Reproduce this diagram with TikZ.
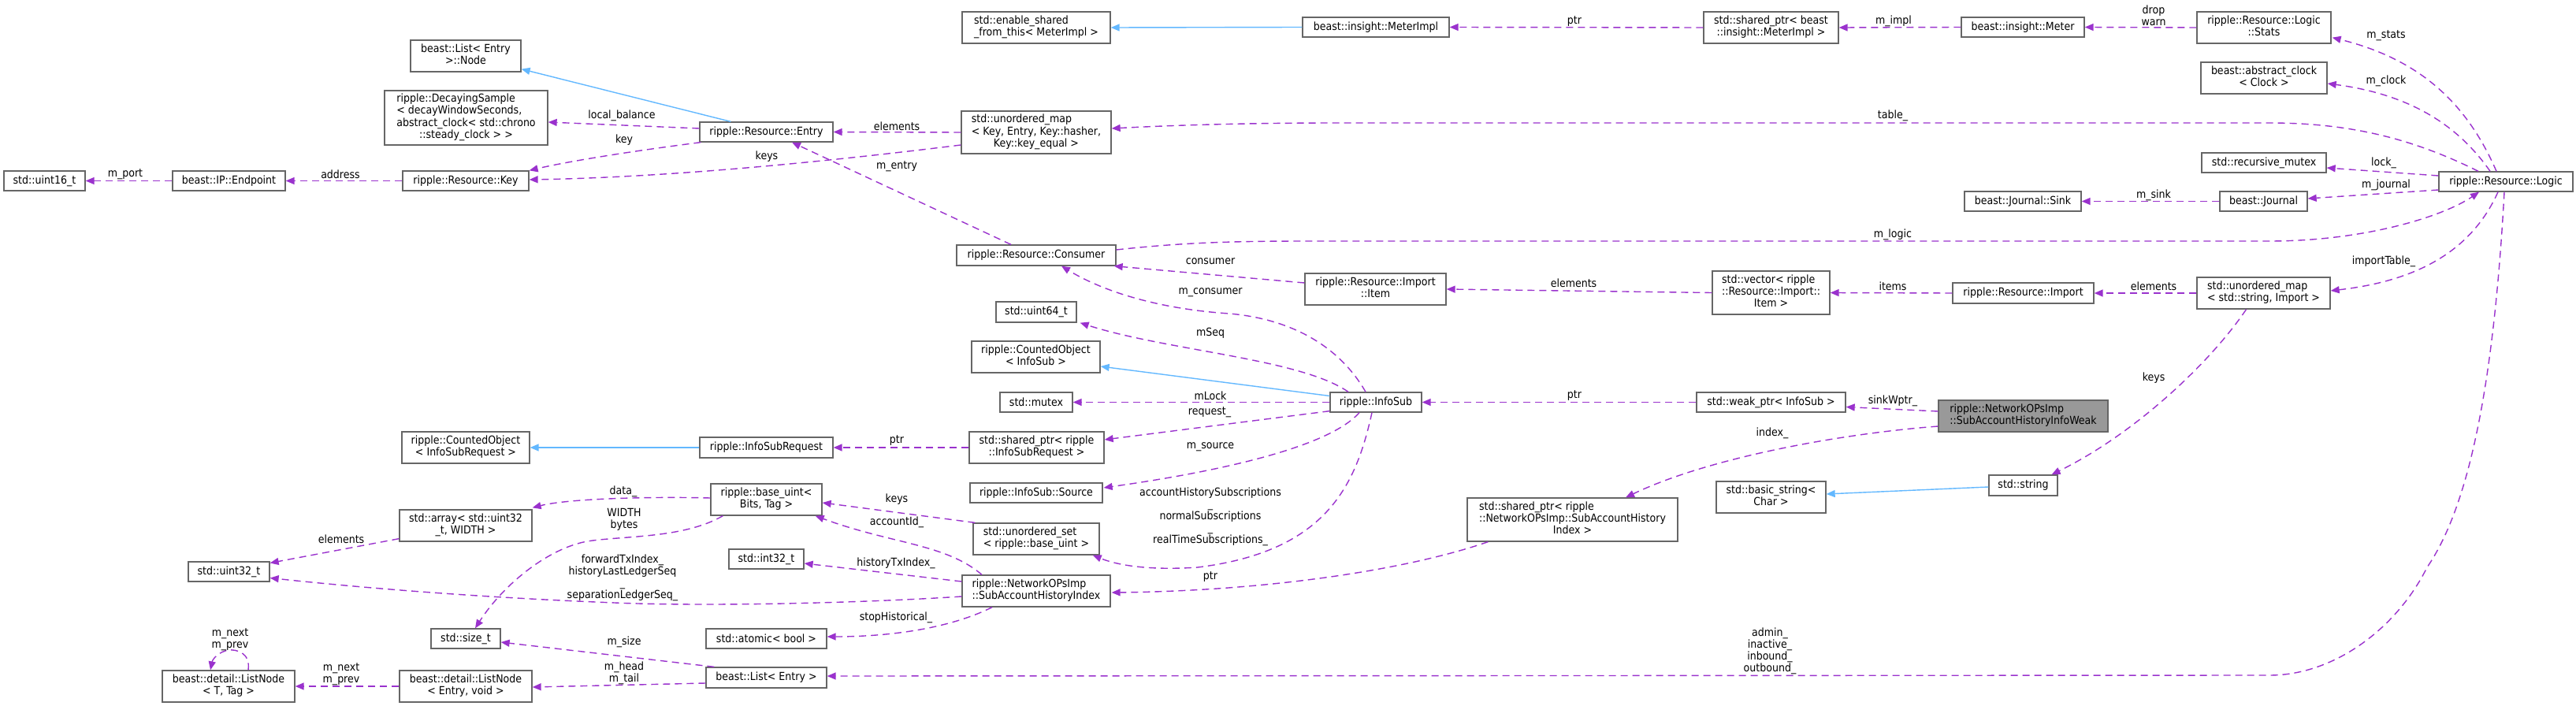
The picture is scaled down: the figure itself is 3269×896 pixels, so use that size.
\documentclass[tikz,border=0pt]{standalone}
\usepackage{fontspec}
\setmainfont{DejaVu Sans Condensed}
\usetikzlibrary{arrows.meta,calc}
\definecolor{usecol}{HTML}{9A32CD}
\definecolor{inhcol}{HTML}{63B8FF}
\definecolor{boxcol}{HTML}{666666}
\definecolor{hilite}{HTML}{999999}
\newcommand\tcen[1]{\begin{tabular}{@{}c@{}}#1\end{tabular}}
\newcommand\tlef[2]{\begin{tabular}{@{}l@{}}#1\\\multicolumn{1}{@{}c@{}}{#2}\end{tabular}}
\newcommand\mkbox[7][]{%
  \pgfmathsetmacro\mkW{#5-#3}\pgfmathsetmacro\mkH{#6-#4}%
  \pgfmathsetmacro\mkX{(#3+#5)/2}\pgfmathsetmacro\mkY{(#4+#6)/2}%
  \node[box,#1,minimum width=\mkW pt,minimum height=\mkH pt] (#2) at (\mkX,\mkY) {#7};}
\begin{document}
\begin{tikzpicture}[x=1pt,y=-1pt,
  every node/.style={font=\fontsize{14pt}{15pt}\selectfont},
  box/.style={draw=boxcol,line width=1.3pt,fill=white,inner sep=0pt,rectangle},
  hibox/.style={fill=hilite},
  lbl/.style={inner sep=0pt,align=center},
  arr/.style={-{Triangle[length=11pt,width=9pt]}},
  uedge/.style={draw=usecol,line width=1.4pt,dash pattern=on 9pt off 6pt,arr},
  iedge/.style={draw=inhcol,line width=1.4pt,arr}]
\useasboundingbox (0,0) rectangle (3269,896);

% ---------------- nodes ----------------
\mkbox{lnode}{521}{51}{661}{91}{\tcen{beast::List< Entry\\>::Node}}
\mkbox{decay}{488}{115}{695}{184}{\tlef{ripple::DecayingSample\\< decayWindowSeconds,\\ abstract\_clock< std::chrono}{::steady\_clock > >}}
\mkbox{uint16}{5}{217}{108}{242}{std::uint16\_t}
\mkbox{endpoint}{219}{217}{362}{242}{beast::IP::Endpoint}
\mkbox{key}{511}{217}{671}{242}{ripple::Resource::Key}
\mkbox{enable}{1221}{15}{1409}{55}{\tlef{std::enable\_shared}{\_from\_this< MeterImpl >}}
\mkbox{entry}{888}{155}{1057}{180}{ripple::Resource::Entry}
\mkbox{umapKE}{1220}{141}{1410}{195}{\tlef{std::unordered\_map\\< Key, Entry, Key::hasher,}{Key::key\_equal >}}
\mkbox{meterimpl}{1653}{22}{1839}{47}{beast::insight::MeterImpl}
\mkbox{spmi}{2162}{15}{2333}{55}{\tcen{std::shared\_ptr< beast\\::insight::MeterImpl >}}
\mkbox{meter}{2489}{22}{2645}{47}{beast::insight::Meter}
\mkbox{stats}{2788}{15}{2958}{55}{\tcen{ripple::Resource::Logic\\::Stats}}
\mkbox{clock}{2793}{79}{2953}{119}{\tcen{beast::abstract\_clock\\< Clock >}}
\mkbox{rmutex}{2794}{194}{2952}{219}{std::recursive\_mutex}
\mkbox{logic}{3095}{218}{3265}{243}{ripple::Resource::Logic}
\mkbox{journal}{2817}{243}{2928}{268}{beast::Journal}
\mkbox{sink}{2493}{243}{2641}{268}{beast::Journal::Sink}
\mkbox{coisr}{510}{548}{672}{588}{\tcen{ripple::CountedObject\\< InfoSubRequest >}}
\mkbox{consumer}{1214}{311}{1416}{337}{ripple::Resource::Consumer}
\mkbox{uint64}{1264}{383}{1366}{409}{std::uint64\_t}
\mkbox{coinfosub}{1233}{433}{1396}{473}{\tcen{ripple::CountedObject\\< InfoSub >}}
\mkbox{mutex}{1269}{498}{1361}{523}{std::mutex}
\mkbox{spisr}{1230}{548}{1401}{588}{\tcen{std::shared\_ptr< ripple\\::InfoSubRequest >}}
\mkbox{isr}{888}{555}{1057}{581}{ripple::InfoSubRequest}
\mkbox{item}{1656}{347}{1835}{387}{\tcen{ripple::Resource::Import\\::Item}}
\mkbox{vecitem}{2173}{344}{2322}{399}{\tlef{std::vector< ripple\\::Resource::Import::}{Item >}}
\mkbox{infosub}{1688}{498}{1804}{523}{ripple::InfoSub}
\mkbox{weak}{2153}{498}{2342}{523}{std::weak\_ptr< InfoSub >}
\mkbox{import}{2478}{359}{2657}{385}{ripple::Resource::Import}
\mkbox{umapSI}{2788}{352}{2957}{392}{\tlef{std::unordered\_map}{< std::string, Import >}}
\mkbox[hibox]{weakinfo}{2460}{508}{2675}{548}{\tlef{ripple::NetworkOPsImp}{::SubAccountHistoryInfoWeak}}
\mkbox{array}{507}{647}{675}{687}{\tcen{std::array< std::uint32\\\_t, WIDTH >}}
\mkbox{uint32}{239}{713}{342}{738}{std::uint32\_t}
\mkbox{sizet}{547}{798}{635}{823}{std::size\_t}
\mkbox{lntt}{206}{851}{374}{891}{\tcen{beast::detail::ListNode\\< T, Tag >}}
\mkbox{lnev}{507}{851}{675}{891}{\tcen{beast::detail::ListNode\\< Entry, void >}}
\mkbox{baseuint}{902}{614}{1043}{654}{\tcen{ripple::base\_uint<\\Bits, Tag >}}
\mkbox{int32}{925}{697}{1020}{722}{std::int32\_t}
\mkbox{atomic}{896}{798}{1049}{823}{std::atomic< bool >}
\mkbox{list}{896}{847}{1049}{873}{beast::List< Entry >}
\mkbox{source}{1231}{613}{1399}{638}{ripple::InfoSub::Source}
\mkbox{uset}{1235}{664}{1395}{704}{\tlef{std::unordered\_set}{< ripple::base\_uint >}}
\mkbox{sahi}{1221}{730}{1409}{770}{\tlef{ripple::NetworkOPsImp}{::SubAccountHistoryIndex}}
\mkbox{spsahi}{1862}{632}{2129}{687}{\tlef{std::shared\_ptr< ripple\\::NetworkOPsImp::SubAccountHistory}{Index >}}
\mkbox{basicstr}{2178}{611}{2317}{651}{\tcen{std::basic\_string<\\Char >}}
\mkbox{string}{2524}{603}{2611}{629}{std::string}

% ---------------- inheritance ----------------
\draw[iedge] ($(entry.north west)+(40,0)$) -- ($(lnode.south east)+(0,-4)$);
\draw[iedge] (meterimpl.west) -- (enable.east);
\draw[iedge] (isr.west) -- (coisr.east);
\draw[iedge] ($(infosub.west)+(0,-8)$) -- ($(coinfosub.east)+(0,12)$);
\draw[iedge] ($(string.west)+(0,2)$) -- ($(basicstr.east)+(0,-4)$);

% ---------------- usage ----------------
\draw[uedge] ($(entry.west)+(0,-4.5)$) -- ($(decay.east)+(0,5.5)$);
\draw[uedge] ($(entry.south west)+(2,0)$) .. controls (800,192) and (720,205) .. (key.north east);
\draw[uedge] ($(umapKE.west)+(0,16)$) .. controls (1050,205) and (850,225) .. ($(key.east)+(0,-1.5)$);
\draw[uedge] (umapKE.west) -- (entry.east);
\draw[uedge] (key.west) -- (endpoint.east);
\draw[uedge] (endpoint.west) -- (uint16.east);
\draw[uedge] (spmi.west) -- (meterimpl.east);
\draw[uedge] (meter.west) -- (spmi.east);
\draw[uedge] (stats.west) -- (meter.east);
\draw[uedge] ($(logic.north)+(-12,0)$) .. controls (3130,130) and (3070,75) .. ($(stats.south east)+(1,-8)$);
\draw[uedge] ($(logic.north)+(-20,0)$) .. controls (3120,160) and (3060,120) .. ($(clock.east)+(0,7)$);
\draw[uedge] ($(logic.north)+(-35,0)$) .. controls (3060,175) and (2980,156) .. (2880,156) -- (1700,156) .. controls (1560,156) and (1470,160) .. ($(umapKE.east)+(0,-5)$);
\draw[uedge] ($(logic.west)+(0,-7.5)$) -- ($(rmutex.east)+(0,6.5)$);
\draw[uedge] ($(logic.west)+(0,10.5)$) -- ($(journal.east)+(0,-3.5)$);
\draw[uedge] (journal.west) -- (sink.east);
\draw[uedge] ($(consumer.east)+(0,-7)$) .. controls (1500,308) and (1560,306) .. (1660,306) -- (2880,306) .. controls (3000,306) and (3100,275) .. ($(logic.south)+(-34,0)$);
\draw[uedge] ($(item.west)+(0,-8)$) -- ($(consumer.south east)+(-3,0)$);
\draw[uedge] (vecitem.west) -- (item.east);
\draw[uedge] (import.west) -- (vecitem.east);
\draw[uedge] (umapSI.west) -- (import.east);
\draw[uedge] ($(logic.south)+(-10,0)$) .. controls (3140,310) and (3080,355) .. ($(umapSI.east)+(0,-3)$);
\draw[uedge] ($(umapSI.south)+(-22,0)$) .. controls (2805,460) and (2710,550) .. ($(string.north)+(36,0)$);
\draw[uedge] ($(consumer.north)+(-32,0)$) -- ($(entry.south)+(32.5,0)$);
\draw[uedge] ($(infosub.north)+(-13,0)$) .. controls (1700,440) and (1640,405) .. (1560,398) .. controls (1470,392) and (1400,370) .. ($(consumer.south)+(32,0)$);
\draw[uedge] ($(infosub.north)+(-35,0)$) .. controls (1650,455) and (1480,445) .. ($(uint64.south east)+(4,0)$);
\draw[uedge] (infosub.west) -- (mutex.east);
\draw[uedge] ($(infosub.south west)+(0,-2)$) -- ($(spisr.east)+(0,-10)$);
\draw[uedge] (spisr.west) -- (isr.east);
\draw[uedge] ($(infosub.south)+(-21,0)$) .. controls (1680,575) and (1500,605) .. ($(source.east)+(1,-6.5)$);
\draw[uedge] ($(infosub.south)+(-5,0)$) .. controls (1720,620) and (1680,700) .. (1520,720) .. controls (1460,724) and (1420,718) .. ($(uset.south east)+(-9,0)$);
\draw[uedge] (weak.west) -- (infosub.east);
\draw[uedge] ($(weakinfo.west)+(0,-6)$) -- ($(weak.east)+(0,6)$);
\draw[uedge] ($(weakinfo.west)+(0,13)$) .. controls (2340,550) and (2170,580) .. ($(spsahi.north)+(67.5,0)$);
\draw[uedge] ($(spsahi.south west)+(27,0)$) .. controls (1780,725) and (1600,750) .. ($(sahi.east)+(1,2)$);
\draw[uedge] ($(sahi.north)+(-69,0)$) .. controls (1200,690) and (1130,690) .. ($(baseuint.south east)+(-9,0)$);
\draw[uedge] ($(sahi.west)+(0,-12)$) -- ($(int32.east)+(0,5.5)$);
\draw[uedge] ($(sahi.west)+(0,7)$) .. controls (1100,765) and (900,770) .. (780,765) .. controls (600,758) and (450,745) .. ($(uint32.east)+(0,8)$);
\draw[uedge] ($(sahi.south)+(-56,0)$) .. controls (1200,800) and (1120,808) .. ($(atomic.east)+(0,-2.5)$);
\draw[uedge] ($(uset.north west)+(3,0)$) -- ($(baseuint.east)+(0,4)$);
\draw[uedge] ($(baseuint.west)+(0,-2)$) .. controls (820,630) and (720,633) .. ($(array.north east)+(0,-2)$);
\draw[uedge] ($(baseuint.south west)+(16,0)$) .. controls (870,682) and (800,680) .. (752,686) .. controls (700,692) and (640,740) .. ($(sizet.north)+(12,0)$);
\draw[uedge] ($(array.south west)+(0,-4)$) -- ($(uint32.east)+(0,-11)$);
\draw[uedge] ($(list.north west)+(11,0)$) -- ($(sizet.east)+(0,4.5)$);
\draw[uedge] ($(list.west)+(0,7)$) -- ($(lnev.east)+(0,1)$);
\draw[uedge] (lnev.west) -- (lntt.east);
\draw[uedge] ($(lntt.north)+(25,0)$) .. controls (318,828) and (300,824) .. (290,825) .. controls (278,827) and (270,836) .. ($(lntt.north)+(-23,0)$);
\draw[uedge] ($(logic.south)+(-2,0)$) .. controls (3165,480) and (3135,640) .. (3080,720) .. controls (3040,800) and (2960,857) .. (2880,857) -- ($(list.east)+(0,-2)$);

% ---------------- labels ----------------
\node[lbl] (t1) at (159,221) {m\_port};
\node[lbl] (t2) at (432,221) {address};
\node[lbl] (t3) at (789,147) {local\_balance};
\node[lbl] (t4) at (792,178) {key};
\node[lbl] (t5) at (1138,160) {elements};
\node[lbl] (t6) at (973,199) {keys};
\node[lbl] (t7) at (1138,211) {m\_entry};
\node[lbl] (t8) at (1998,27) {ptr};
\node[lbl] (t9) at (2403,27) {m\_impl};
\node[lbl] (t10) at (2733,19.5) {drop\\warn};
\node[lbl] (t11) at (3028,45) {m\_stats};
\node[lbl] (t12) at (3028,103) {m\_clock};
\node[lbl] (t13) at (2402,147) {table\_};
\node[lbl] (t14) at (3025,207) {lock\_};
\node[lbl] (t15) at (3028,235) {m\_journal};
\node[lbl] (t16) at (2733,248) {m\_sink};
\node[lbl] (t17) at (2402,298) {m\_logic};
\node[lbl] (t18) at (1536,332) {consumer};
\node[lbl] (t19) at (1997,359) {elements};
\node[lbl] (t20) at (2402,363) {items};
\node[lbl] (t21) at (2733,363) {elements};
\node[lbl] (t22) at (3025,332) {importTable\_};
\node[lbl] (t23) at (2733,480) {keys};
\node[lbl] (t24) at (1536,371) {m\_consumer};
\node[lbl] (t25) at (1536,423) {mSeq};
\node[lbl] (t26) at (1536,502) {mLock};
\node[lbl] (t27) at (1535,523) {request\_};
\node[lbl] (t28) at (1138,559) {ptr};
\node[lbl] (t29) at (1536,567) {m\_source};
\node[lbl] (t30) at (1998,502) {ptr};
\node[lbl] (t31) at (2402,509) {sinkWptr\_};
\node[lbl] (t32) at (2249,550) {index\_};
\node[lbl] (t33) at (1536,655.5) {accountHistorySubscriptions\\\_\\normalSubscriptions\\\_\\realTimeSubscriptions\_};
\node[lbl] (t34) at (1536,732) {ptr};
\node[lbl] (t35) at (1138,634) {keys};
\node[lbl] (t36) at (1138,663) {accountId\_};
\node[lbl] (t37) at (1137,715) {historyTxIndex\_};
\node[lbl] (t38) at (1137,784) {stopHistorical\_};
\node[lbl] (t39) at (790,733.5) {forwardTxIndex\_\\historyLastLedgerSeq\\\_\\separationLedgerSeq\_};
\node[lbl] (t40) at (791,624) {data\_};
\node[lbl] (t41) at (792,659.5) {WIDTH\\bytes};
\node[lbl] (t42) at (433,684) {elements};
\node[lbl] (t43) at (792,815) {m\_size};
\node[lbl] (t44) at (792,854) {m\_head\\m\_tail};
\node[lbl] (t45) at (433,855.5) {m\_next\\m\_prev};
\node[lbl] (t46) at (292,811.5) {m\_next\\m\_prev};
\node[lbl] (t47) at (2246,826) {admin\_\\inactive\_\\inbound\_\\outbound\_};
\end{tikzpicture}
\end{document}
